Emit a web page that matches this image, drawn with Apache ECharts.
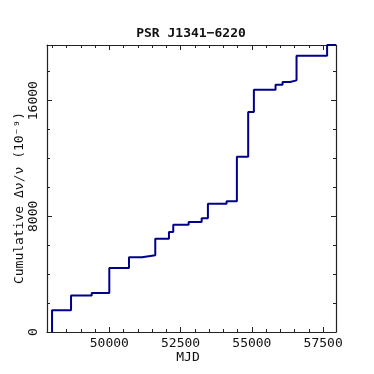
<!DOCTYPE html>
<html>
<head>
<meta charset="utf-8">
<script src="https://cdn.jsdelivr.net/npm/echarts@6/dist/echarts.min.js"></script>
<style>
  html, body { margin: 0; padding: 0; background: #ffffff; }
  #chart { width: 374px; height: 374px; }
</style>
</head>
<body>
<div id="chart"></div>
<script>
// glitch epochs (MJD) and cumulative dnu/nu after each glitch, in 1e-9
const mjd = [47992, 47992, 48658, 49383, 50000, 50690, 51146, 51612, 52092, 52243, 52782,
             53238, 53458, 54113, 54474, 54870, 55070, 55830, 56076, 56342, 56566, 57638, 57950];
const cumDnu = [0, 1500, 2517, 2700, 4432, 5165, 5303, 6458, 6921, 7426, 7613,
                7863, 8878, 9037, 12128, 15219, 16760, 17106, 17293, 17404, 19112, 19850, 19850];

const xMajor = [50000, 52500, 55000, 57500];
const xMinor = [48000, 48500, 49000, 49500, 50500, 51000, 51500, 52000, 53000, 53500,
                54000, 54500, 55500, 56000, 56500, 57000];
const yMajor = [0, 8000, 16000];
const yMinor = [2000, 4000, 6000, 10000, 12000, 14000, 18000];

const xMin = 47815, xMax = 57950;
const yMin = 0, yMax = 19850;

const font = 'DejaVu Sans Mono';
const axisColor = '#222222';

const chart = echarts.init(document.getElementById('chart'));

const xAxisDef = (position, ticks, len, withLabel, showLine) => ({
    type: 'value',
    position: position,
    min: xMin,
    max: xMax,
    axisLine: { show: showLine, onZero: false, lineStyle: { color: axisColor, width: 1.2 } },
    axisTick: { show: true, inside: true, length: len, customValues: ticks,
                lineStyle: { color: axisColor, width: 1 } },
    axisLabel: withLabel ? { show: true, customValues: ticks, margin: 5,
                             formatter: (v) => String(v),
                             fontFamily: font, fontSize: 13, color: '#111' } : { show: false },
    splitLine: { show: false }
});

const yAxisDef = (position, ticks, len, withLabel, showLine) => ({
    type: 'value',
    position: position,
    min: yMin,
    max: yMax,
    axisLine: { show: showLine, onZero: false, lineStyle: { color: axisColor, width: 1.2 } },
    axisTick: { show: true, inside: true, length: len, customValues: ticks,
                lineStyle: { color: axisColor, width: 1 } },
    axisLabel: withLabel ? { show: true, customValues: ticks, margin: 7, rotate: 90,
                             formatter: (v) => String(v),
                             fontFamily: font, fontSize: 13, color: '#111' } : { show: false },
    splitLine: { show: false }
});

const option = {
    backgroundColor: '#ffffff',
    animation: false,
    title: {
        text: 'PSR J1341\u22126220',
        left: 191,
        top: 27,
        padding: 0,
        textAlign: 'center',
        textStyle: { fontFamily: font, fontSize: 13, fontWeight: 'bold', color: '#111' }
    },
    grid: { left: 47, right: 38, top: 45, bottom: 42 },
    xAxis: [
        xAxisDef('bottom', xMajor, 5, true, true),
        xAxisDef('bottom', xMinor, 3, false, false),
        xAxisDef('top', xMajor, 5, false, true),
        xAxisDef('top', xMinor, 3, false, false)
    ],
    yAxis: [
        yAxisDef('left', yMajor, 5, true, true),
        yAxisDef('left', yMinor, 3, false, false),
        yAxisDef('right', yMajor, 5, false, true),
        yAxisDef('right', yMinor, 3, false, false)
    ],
    graphic: [
        {
            type: 'text',
            x: 20,
            y: 198,
            rotation: Math.PI / 2,
            style: {
                text: 'Cumulative \u0394\u03bd/\u03bd (10\u207b\u2079)',
                fontFamily: font,
                fontSize: 13,
                fill: '#111',
                align: 'center',
                verticalAlign: 'middle'
            }
        },
        {
            type: 'text',
            x: 188,
            y: 358,
            style: {
                text: 'MJD',
                fontFamily: font,
                fontSize: 13,
                fill: '#111',
                align: 'center',
                verticalAlign: 'middle'
            }
        }
    ],
    series: [{
        type: 'line',
        xAxisIndex: 0,
        yAxisIndex: 0,
        step: 'end',
        symbol: 'none',
        clip: false,
        lineStyle: { color: '#00008B', width: 2 },
        data: mjd.map((m, i) => [m, cumDnu[i]])
    }]
};

chart.setOption(option);
</script>
</body>
</html>
